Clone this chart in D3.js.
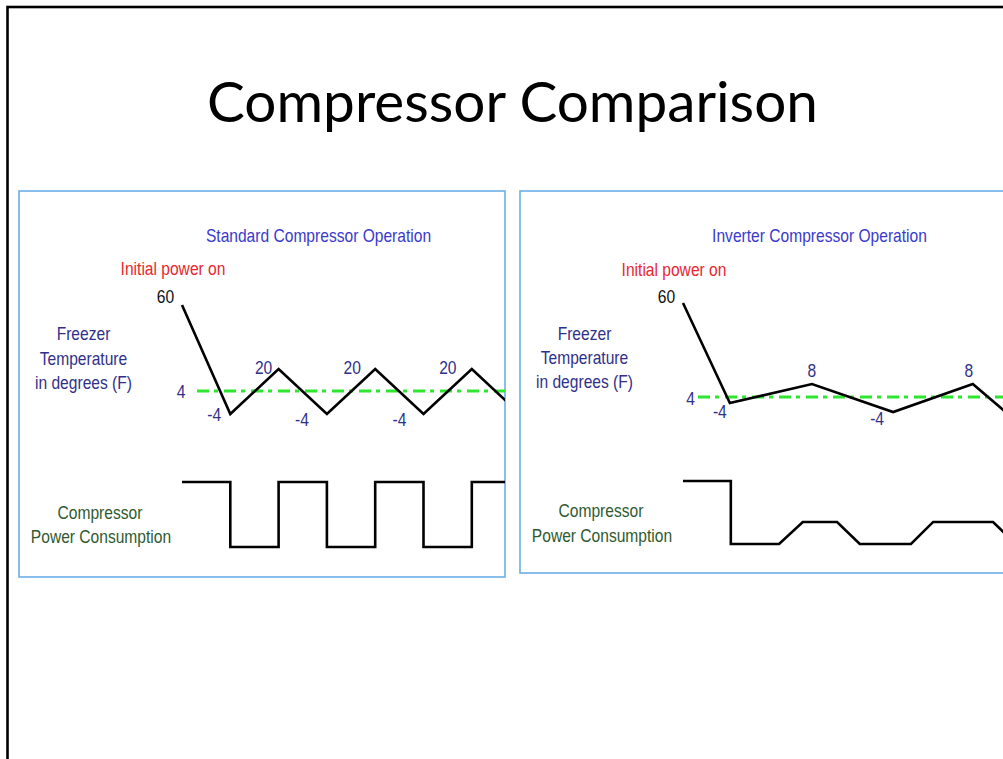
<!DOCTYPE html>
<html><head><meta charset="utf-8">
<script src="https://cdn.jsdelivr.net/npm/d3@7"></script>
<style>html,body{margin:0;padding:0;background:#fff;overflow:hidden}</style>
</head><body>
<svg id="c" width="1003" height="759"></svg>
<script>
// ---------------- data ----------------
const titleText = "Compressor Comparison";
const panelTitles = ["Standard Compressor Operation", "Inverter Compressor Operation"];
const startLabel = "Initial power on";
const tempLabelLines = ["Freezer", "Temperature", "in degrees (F)"];
const powerLabelLines = ["Compressor", "Power Consumption"];
const setpoint = 4;
const setpointLabel = "4";

// Standard compressor: temperature (F) over time steps, and on/off power
const stdTime = [0, 1, 2, 3, 4, 5, 6, 7];
const stdTemp = [60, -4, 20, -4, 20, -4, 20, -4];
const stdTempLabels = ["60", "-4", "20", "-4", "20", "-4", "20", ""];
const stdTempBreaks = [-4, 4, 20, 60];
const stdPowerTime = [0, 1, 2, 3, 4, 5, 6, 7];
const stdPower = [1, 0, 1, 0, 1, 0, 1, 1];

// Inverter compressor: temperature (F) over time, and variable power
const invTime = [0, 0.97, 2.67, 4.35, 6.0, 6.68];
const invTemp = [60, 0.8, 8, -4, 8, -4];
const invTempLabels = ["60", "-4", "8", "-4", "8", ""];
const invTempBreaks = [-4, 4, 8, 60];
const invPowerTime = [0, 0.99, 0.99, 1.99, 2.48, 3.19, 3.66, 4.72, 5.18, 6.42, 6.89];
const invPower = [1, 1, 0, 0, 0.35, 0.35, 0, 0, 0.35, 0.35, 0];

// ---------------- rendering ----------------
const svg = d3.select("#c");

function detectNarrow() {
  const a = svg.append("text").style("font-family", "'Liberation Sans Narrow', monospace").style("font-size", "100px").text("Compressor Operation");
  const b = svg.append("text").style("font-family", "monospace").style("font-size", "100px").text("Compressor Operation");
  const wa = a.node().getComputedTextLength(), wb = b.node().getComputedTextLength();
  a.remove(); b.remove();
  return Math.abs(wa - wb) > 1;
}
const NARROW = detectNarrow();
const FONT = NARROW ? "'Liberation Sans Narrow', 'Arial Narrow', sans-serif" : "'Liberation Sans', Arial, sans-serif";

function label(g, str, x, y, color, size = 19, anchor = "middle") {
  const t = g.append("text").attr("x", x).attr("y", y).attr("text-anchor", anchor)
    .attr("fill", color).style("font-family", FONT).style("font-size", size + "px").text(str);
  if (!NARROW) {
    const w = t.node().getComputedTextLength();
    t.attr("textLength", w * 0.82).attr("lengthAdjust", "spacingAndGlyphs");
  }
  return t;
}

// slide frame
svg.append("rect").attr("x", 7.5).attr("y", 7).attr("width", 1200).attr("height", 900)
  .attr("fill", "#fff").attr("stroke", "#000").attr("stroke-width", 2.6);

// title
const title = svg.append("text").attr("x", 512.5).attr("y", 122).attr("text-anchor", "middle")
  .attr("fill", "#000").style("font-family", "Lato, 'Open Sans', sans-serif").style("font-size", "50px")
  .text(titleText);
{
  const w = title.node().getComputedTextLength();
  title.style("font-size", (50 * 611 / w) + "px");
}

const C_TITLE = "#3a3acb", C_RED = "#e8262f", C_NAVY = "#30308a", C_GREEN = "#2f5a2f";

const panels = [
  {
    x: 19, y: 191, w: 486, h: 386, title: panelTitles[0],
    time: stdTime, temp: stdTemp, labels: stdTempLabels, breaks: stdTempBreaks,
    tempRange: [223, 200, 178, 114],
    pTime: stdPowerTime, power: stdPower, curve: d3.curveStepAfter, powerRange: [356, 291],
    labelOffsets: [[-16.5, -2], [-16, 7], [-15, 5], [-25, 12], [-23, 5], [-24, 12], [-24, 5]],
    setLabel: [162, 6.5], textBase: [149, 174, 198], powBase: [328, 352], clipW: 486
  },
  {
    x: 520, y: 191, w: 600, h: 382, title: panelTitles[1],
    time: invTime, temp: invTemp, labels: invTempLabels, breaks: invTempBreaks,
    tempRange: [221, 206, 193, 112],
    pTime: invPowerTime, power: invPower, curve: d3.curveLinear, powerRange: [353, 290],
    labelOffsets: [[-16.5, 0], [-10, 15], [0, -7], [-16, 13], [-4, -7]],
    setLabel: [170.5, 8], textBase: [149, 173, 197], powBase: [326, 351], clipW: 600
  }
];

panels.forEach((p, pi) => {
  const g = svg.append("g").attr("transform", `translate(${p.x},${p.y})`);
  g.append("rect").attr("x", 0).attr("y", 0).attr("width", p.w).attr("height", p.h)
    .attr("fill", "#fff").attr("stroke", "#6aaee8").attr("stroke-width", 1.6);

  const clipId = "clip" + pi;
  g.append("clipPath").attr("id", clipId).append("rect")
    .attr("x", 0).attr("y", 0).attr("width", p.clipW).attr("height", p.h);

  const x = d3.scaleLinear().domain([0, 7]).range([163, 163 + 7 * 48.3]);
  const y = d3.scaleLinear().domain(p.breaks).range(p.tempRange);
  const yp = d3.scaleLinear().domain([0, 1]).range(p.powerRange);

  // texts
  label(g, p.title, 299.5, 51, C_TITLE);
  label(g, startLabel, 154, 84 + pi, C_RED);
  tempLabelLines.forEach((s, i) => label(g, s, 64.5, p.textBase[i], C_NAVY));
  powerLabelLines.forEach((s, i) => label(g, s, i === 0 ? 81 : 82, p.powBase[i], C_GREEN));

  const plot = g.append("g").attr("clip-path", `url(#${clipId})`);

  // setpoint dash-dot line
  plot.append("line").attr("x1", 178).attr("x2", p.clipW)
    .attr("y1", y(setpoint)).attr("y2", y(setpoint))
    .attr("stroke", "#2fe62f").attr("stroke-width", 3.2).attr("stroke-dasharray", "12,5,4,6");
  label(g, setpointLabel, p.setLabel[0], y(setpoint) + p.setLabel[1], C_NAVY);

  // temperature line
  const tempPts = p.time.map((t, i) => [t, p.temp[i]]);
  plot.append("path").datum(tempPts)
    .attr("d", d3.line().x(d => x(d[0])).y(d => y(d[1])))
    .attr("fill", "none").attr("stroke", "#000").attr("stroke-width", 2.6).attr("stroke-linejoin", "miter");

  // temperature labels
  tempPts.forEach((d, i) => {
    const s = p.labels[i];
    if (!s) return;
    const o = p.labelOffsets[i];
    label(g, s, x(d[0]) + o[0], y(d[1]) + o[1], i === 0 ? "#111" : C_NAVY);
  });

  // power line
  const powPts = p.pTime.map((t, i) => [t, p.power[i]]);
  plot.append("path").datum(powPts)
    .attr("d", d3.line().curve(p.curve).x(d => x(d[0])).y(d => yp(d[1])))
    .attr("fill", "none").attr("stroke", "#000").attr("stroke-width", 2.6).attr("stroke-linejoin", "miter");
});
</script>
</body></html>
